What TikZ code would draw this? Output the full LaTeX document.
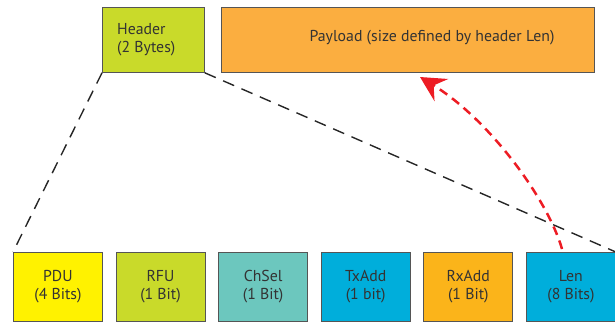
\documentclass[tikz,border=0pt]{standalone}
\usepackage{fontspec}
\setmainfont{PT Sans}
\usetikzlibrary{arrows.meta}
\definecolor{hdrgreen}{HTML}{C9DA2A}
\definecolor{payorange}{HTML}{FBAE40}
\definecolor{pduyellow}{HTML}{FFF200}
\definecolor{chselteal}{HTML}{6CC7BE}
\definecolor{addrblue}{HTML}{00AEDB}
\definecolor{rxorange}{HTML}{FBB41A}
\definecolor{textgray}{HTML}{333333}
\definecolor{edgegray}{HTML}{555555}
\definecolor{arrowred}{HTML}{ED1C24}
\tikzset{
  labelfont/.style={text=textgray, font=\fontsize{15.8}{18}\selectfont},
  field/.style={draw=edgegray, line width=0.8pt, minimum width=89pt, minimum height=69pt,
    inner sep=0pt, align=center, labelfont, anchor=north west},
  guide/.style={draw=black!85, line width=1.4pt, dash pattern=on 12pt off 8pt},
  lenlink/.style={draw=arrowred, line width=2.5pt, dash pattern=on 9pt off 6pt,
    -{Stealth[length=25pt, width=26pt, inset=9pt]}}
}
\begin{document}
\begin{tikzpicture}[x=1pt, y=-1pt]
  \useasboundingbox (0,0) rectangle (615,322);
  % top-level frame parts
  \node[field, fill=hdrgreen, minimum width=102pt, minimum height=65pt] (hdr) at (102,7) {};
  \node[anchor=west, align=left, labelfont, inner sep=0pt] (hdrtxt) at (117,40) {Header\\(2 Bytes)};
  \node[field, fill=payorange, minimum width=373pt, minimum height=65pt] (pay) at (221,7) {};
  \node[labelfont, inner sep=0pt] (paytxt) at (432,38) {Payload (size defined by header Len)};
  % header bit fields
  \node[field, fill=pduyellow]  (pdu) at (13,252)    {PDU\\(4 Bits)};
  \node[field, fill=hdrgreen]   (rfu) at (115.6,252) {RFU\\(1 Bit)};
  \node[field, fill=chselteal]  (chsel) at (218.2,252) {ChSel\\(1 Bit)};
  \node[field, fill=addrblue]   (tx) at (320.8,252)  {TxAdd\\(1 bit)};
  \node[field, fill=rxorange]   (rx) at (423.4,252)  {RxAdd\\(1 Bit)};
  \node[field, fill=addrblue]   (len) at (526,252)   {Len\\(8 Bits)};
  % expansion guides
  \draw[guide] (hdr.south west) -- (pdu.north west);
  \draw[guide] (hdr.south east) -- (len.north east);
  % Len determines payload size
  \coordinate (lenstart) at (562,249);
  \coordinate (paytip) at (420,77);
  \draw[lenlink] (lenstart) .. controls (548,200) and (490,120) .. (paytip);
\end{tikzpicture}
\end{document}
